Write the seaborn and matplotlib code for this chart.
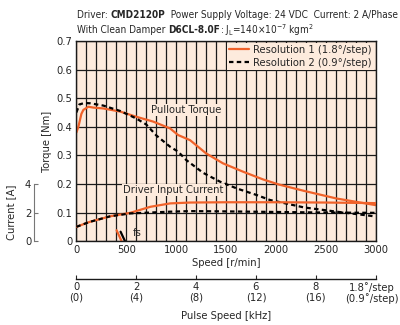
import matplotlib
matplotlib.use("Agg")
import matplotlib.pyplot as plt
from matplotlib import font_manager
from matplotlib.transforms import ScaledTranslation
import numpy as np
import pandas as pd
import seaborn as sns

# Pullout torque
speed_r1 = [0, 20, 50, 70, 120, 170, 270, 440, 600, 770, 940, 1020, 1140, 1300, 1470, 1670, 1870, 2030, 2280, 2610, 3000]
torque_r1 = [0.38, 0.40, 0.445, 0.459, 0.470, 0.467, 0.464, 0.453, 0.435, 0.418, 0.394, 0.371, 0.353, 0.307, 0.272,
             0.243, 0.216, 0.198, 0.176, 0.149, 0.126]
speed_r2 = [0, 30, 80, 140, 270, 440, 600, 700, 800, 940, 1020, 1100, 1270, 1440, 1610, 1810, 1940, 2280, 2610, 2940, 3000]
torque_r2 = [0.45, 0.478, 0.483, 0.482, 0.474, 0.455, 0.429, 0.408, 0.37, 0.330, 0.313, 0.284, 0.239, 0.208, 0.184,
             0.161, 0.144, 0.118, 0.103, 0.089, 0.086]

# Driver input current [A]
speed_cur = [0, 130, 340, 540, 740, 940, 1140, 1500, 2000, 2500, 3000]
current_r1 = [1.0, 1.34, 1.74, 1.98, 2.4, 2.64, 2.7, 2.72, 2.72, 2.7, 2.66]
current_r2 = [1.0, 1.34, 1.74, 1.94, 2.0, 2.06, 2.1, 2.08, 2.04, 2.0, 1.98]

# starting pulse speed markers (fs)
fs_r1 = ([403, 453], [0.038, 0.0])
fs_r2 = ([443, 487], [0.033, 0.0])

labels = ["Resolution 1 (1.8°/step)", "Resolution 2 (0.9°/step)"]
pulse_ticks = [0, 2, 4, 6, 8, 10]
pulse_labels = ["0\n(0)", "2\n(4)", "4\n(8)", "6\n(12)", "8\n(16)", "1.8˚/step\n(0.9˚/step)"]

orange = "#F0622A"
bg = "#FDEBDD"

names = {f.name for f in font_manager.fontManager.ttflist}
has_cond = any(f.name == "DejaVu Sans" and "condensed" in str(f.stretch) for f in font_manager.fontManager.ttflist)
narrow = "Liberation Sans Narrow" if "Liberation Sans Narrow" in names else "DejaVu Sans"

sns.set_style("ticks")
plt.rcParams["font.family"] = [narrow, "DejaVu Sans"]
if narrow == "DejaVu Sans" and has_cond:
    plt.rcParams["font.stretch"] = "condensed"
fs = 8 if (narrow != "DejaVu Sans" or has_cond) else 7
plt.rcParams["font.size"] = fs

torque = pd.DataFrame({
    "speed": speed_r1 + speed_r2,
    "torque": torque_r1 + torque_r2,
    "res": [labels[0]] * len(speed_r1) + [labels[1]] * len(speed_r2),
})
current = pd.DataFrame({
    "speed": speed_cur + speed_cur,
    "current": current_r1 + current_r2,
    "res": [labels[0]] * len(speed_cur) + [labels[1]] * len(speed_cur),
})
palette = {labels[0]: orange, labels[1]: "black"}
dashes = {labels[0]: "", labels[1]: (2, 1.5)}

fig = plt.figure(figsize=(4, 3.25), dpi=100)
ax = fig.add_axes([0.191, 0.258, 0.748, 0.616])
ax.set_facecolor(bg)

sns.lineplot(data=torque, x="speed", y="torque", hue="res", style="res", palette=palette,
             dashes=dashes, lw=1.6, sort=False, ax=ax)
ax.plot(*fs_r1, color=orange, lw=1.6, clip_on=True)
ax.plot(*fs_r2, color="black", lw=1.6, clip_on=True)

ax.set_xlim(0, 3000)
ax.set_ylim(0, 0.7)
ax.set_xticks(range(0, 3001, 500))
ax.set_xticks(range(0, 3001, 100), minor=True)
ax.set_yticks(np.arange(0, 0.71, 0.1))
ax.set_yticklabels(["0", "0.1", "0.2", "0.3", "0.4", "0.5", "0.6", "0.7"])
ax.grid(which="both", axis="x", color="#1a1a1a", lw=0.9)
ax.grid(which="major", axis="y", color="#1a1a1a", lw=0.9)
ax.tick_params(which="both", length=0, pad=3, labelsize=fs)
ax.set_xlabel("Speed [r/min]", fontsize=fs, labelpad=2)
ax.set_ylabel("Torque [Nm]", fontsize=fs)
ax.yaxis.set_label_coords(-0.08, 0.5)
for s in ax.spines.values():
    s.set_color("#1a1a1a")
    s.set_linewidth(1)

h, l = ax.get_legend_handles_labels()
leg = ax.legend(h[-2:], l[-2:], loc="upper right", bbox_to_anchor=(1.0, 1.0), frameon=True,
                facecolor=bg, edgecolor="none", framealpha=1, fontsize=fs, handlelength=1.8,
                borderpad=0.2, borderaxespad=0.15, labelspacing=0.25, handletextpad=0.4)
leg.get_frame().set_boxstyle("square", pad=0)

tb = dict(facecolor=bg, edgecolor="none", pad=1)
ax.text(747, 0.4585, "Pullout Torque", va="center", ha="left", fontsize=fs, bbox=tb)
ax.text(466, 0.1785, "Driver Input Current", va="center", ha="left", fontsize=fs, bbox=tb)
ax.text(560, 0.027, "fs", va="center", ha="left", fontsize=fs)

# current axis on the left
ax2 = ax.twinx()
sns.lineplot(data=current, x="speed", y="current", hue="res", style="res", palette=palette,
             dashes=dashes, lw=1.6, sort=False, legend=False, ax=ax2)
ax2.set_ylim(0, 14)
ax2.yaxis.set_ticks_position("left")
ax2.yaxis.set_label_position("left")
ax2.spines["left"].set_position(("outward", 30.5))
ax2.spines["left"].set_bounds(0, 4)
ax2.spines["left"].set_color("#777777")
ax2.spines["right"].set_visible(False)
ax2.spines["top"].set_visible(False)
ax2.spines["bottom"].set_visible(False)
ax2.set_yticks([0, 2, 4])
ax2.tick_params(axis="y", direction="in", length=3, color="#777777", pad=2, labelsize=fs)
ax2.set_ylabel("Current [A]", fontsize=fs)
ax2.yaxis.set_label_coords(-0.2, 0.1425)
ax2.set_xlabel("")

# pulse speed axis
sec = ax.secondary_xaxis(-0.19, functions=(lambda x: x / 300, lambda x: x * 300))
sec.set_xticks(pulse_ticks)
sec.set_xticklabels(pulse_labels, linespacing=1.05)
sec.tick_params(direction="in", length=3, pad=2, labelsize=fs)
sec.spines["bottom"].set_linewidth(1)
sec.spines["bottom"].set_color("#1a1a1a")
sec.set_xlabel("Pulse Speed [kHz]", fontsize=fs, labelpad=5)
last = sec.get_xticklabels()[-1]
last.set_transform(last.get_transform() + ScaledTranslation(-3 / 72, 0, fig.dpi_scale_trans))


def rich_line(x, y, parts, size):
    r = fig.canvas.get_renderer()
    for txt, weight in parts:
        t = fig.text(x, y, txt, fontsize=size, fontweight=weight, va="center", ha="left")
        x += t.get_window_extent(r).width / fig.bbox.width


line1 = [("Driver: ", "normal"), ("CMD2120P", "bold"),
         ("  Power Supply Voltage: 24 VDC  Current: 2 A/Phase", "normal")]
line2 = [("With Clean Damper ", "normal"), ("D6CL-8.0F", "bold"),
         (r": $\mathregular{J_L}$=140×10$^{\mathregular{-7}}$ kgm$^{\mathregular{2}}$", "normal")]

# pick a title size that fits the first line into the space the reference uses
r = fig.canvas.get_renderer()
w = 0
for txt, weight in line1:
    t = fig.text(0, 0, txt, fontsize=10, fontweight=weight)
    w += t.get_window_extent(r).width
    t.remove()
tsize = min(8, 10 * 322 / w)

rich_line(0.1925, 1 - 15 / 325, line1, tsize)
rich_line(0.1925, 1 - 30 / 325, line2, tsize)

fig.savefig("out.png", dpi=100)
